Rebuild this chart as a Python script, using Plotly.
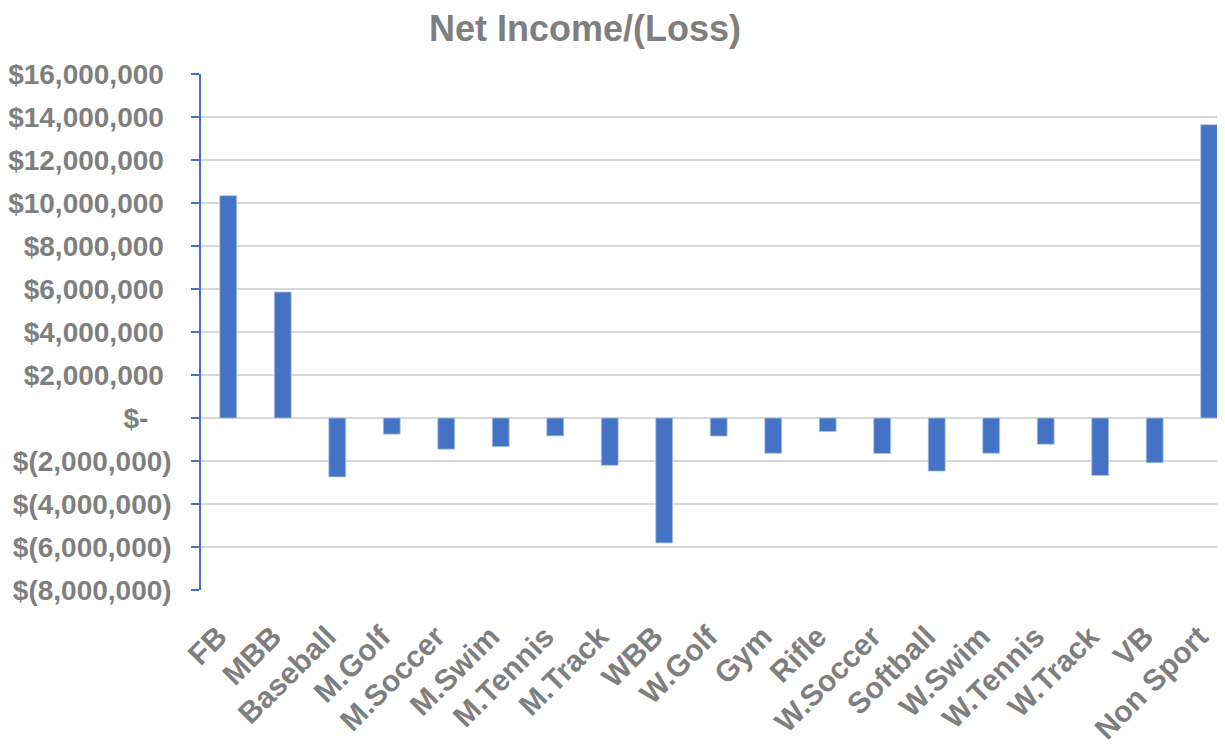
import plotly.graph_objects as go

categories = ["FB", "MBB", "Baseball", "M.Golf", "M.Soccer", "M.Swim", "M.Tennis",
              "M.Track", "WBB", "W.Golf", "Gym", "Rifle", "W.Soccer", "Softball",
              "W.Swim", "W.Tennis", "W.Track", "VB", "Non Sport"]
net_income = [10340000, 5860000, -2740000, -750000, -1450000, -1330000, -830000,
              -2200000, -5810000, -840000, -1640000, -630000, -1650000, -2470000,
              -1640000, -1220000, -2670000, -2080000, 13640000]

tick_vals = [16e6, 14e6, 12e6, 10e6, 8e6, 6e6, 4e6, 2e6, 0, -2e6, -4e6, -6e6, -8e6]
tick_text = ["$16,000,000", "$14,000,000", "$12,000,000", "$10,000,000",
             "$8,000,000", "$6,000,000", "$4,000,000", "$2,000,000", "$-",
             "$(2,000,000)", "$(4,000,000)", "$(6,000,000)", "$(8,000,000)"]
# accounting-style alignment padding
tick_text_padded = [t + ("\u00a0\u00a0\u00a0" if t == "$-" else ("" if t.endswith(")") else "\u00a0"))
                    for t in tick_text]

FONT = "Liberation Sans, Arial, sans-serif"
GRAY = "#7f7f7f"
OFF = 8  # default page body margin

fig = go.Figure(go.Bar(
    x=list(range(len(categories))), y=net_income,
    width=0.31,
    marker=dict(color="#4472C4", line=dict(color="#aec4e8", width=0.8)),
))

W, H = 1225 - OFF, 745 - OFF
fig.update_layout(
    width=W, height=H,
    margin=dict(l=198 - OFF, r=0, t=74 - OFF, b=157 - OFF),
    plot_bgcolor="white", paper_bgcolor="white",
    showlegend=False,
    title=dict(text="<b>Net Income/(Loss)</b>", x=(585 - OFF) / W, xanchor="center",
               y=1 - (28 - OFF) / H, yanchor="middle",
               font=dict(family=FONT, size=36, color=GRAY)),
)

fig.update_xaxes(
    range=[-0.5, 18.29],
    tickmode="array", tickvals=list(range(len(categories))), ticktext=categories,
    tickangle=-45, showgrid=False, zeroline=False, showline=False,
    ticks="", ticklabelstandoff=22, ticklabelshift=-10,
    tickfont=dict(family=FONT, size=30, color=GRAY, weight="bold"),
)

fig.update_yaxes(
    range=[-8e6, 16e6],
    tickmode="array", tickvals=tick_vals, ticktext=tick_text_padded,
    showgrid=True, gridcolor="#d9d9d9", gridwidth=1.5,
    zeroline=True, zerolinecolor="#d9d9d9", zerolinewidth=1.5,
    showline=True, linecolor="#4472C4", linewidth=1.5,
    ticks="outside", ticklen=8, tickcolor="#4472C4", tickwidth=1.5,
    ticklabelstandoff=14,
    tickfont=dict(family=FONT, size=28, color=GRAY, weight="bold"),
)

fig.write_html("out.html")
